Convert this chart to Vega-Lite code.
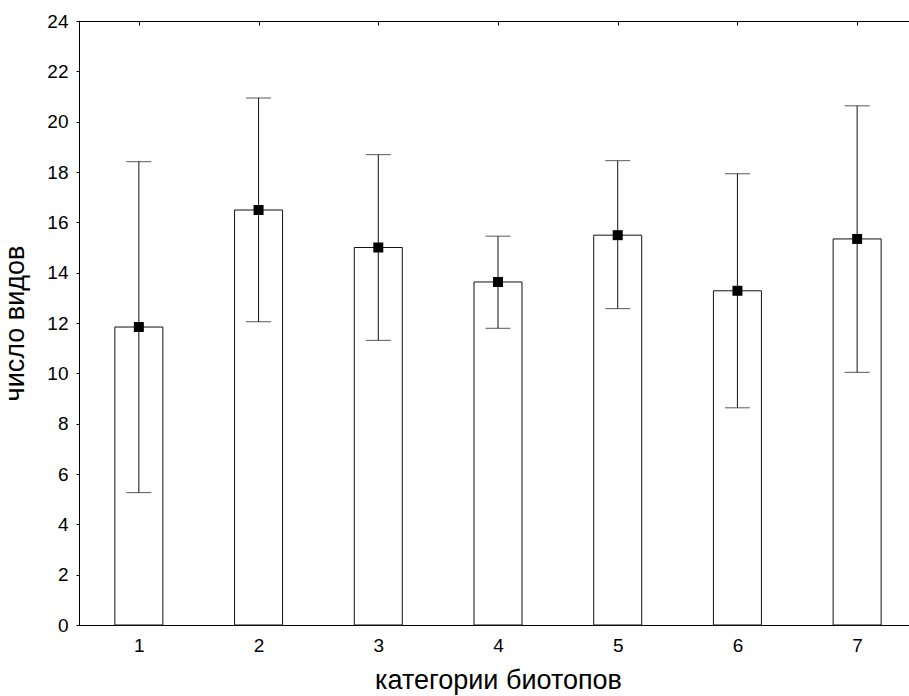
{
  "$schema": "https://vega.github.io/schema/vega-lite/v6.json",
  "autosize": "none",
  "width": 838,
  "height": 604,
  "padding": {"left": 79, "top": 21, "right": 0, "bottom": 71},
  "background": "white",
  "config": {
    "font": "Liberation Sans",
    "view": {"stroke": "#000", "strokeWidth": 1},
    "axis": {"grid": false, "domainColor": "#000", "tickColor": "#000", "labelColor": "#000", "titleColor": "#000", "labelFont": "Liberation Sans", "titleFont": "Liberation Sans", "labelFontSize": 19, "titleFontSize": 27, "titleFontWeight": "normal"}
  },
  "data": {"values": [
    {"cat": 1, "mean": 11.84, "lo": 5.26, "hi": 18.41},
    {"cat": 2, "mean": 16.49, "lo": 12.05, "hi": 20.94},
    {"cat": 3, "mean": 15.0, "lo": 11.31, "hi": 18.69},
    {"cat": 4, "mean": 13.63, "lo": 11.79, "hi": 15.45},
    {"cat": 5, "mean": 15.49, "lo": 12.57, "hi": 18.45},
    {"cat": 6, "mean": 13.28, "lo": 8.63, "hi": 17.93},
    {"cat": 7, "mean": 15.34, "lo": 10.04, "hi": 20.63}
  ]},
  "resolve": {"scale": {"x": "shared", "y": "shared"}, "axis": {"x": "independent", "y": "independent"}},
  "layer": [
    {
      "mark": {"type": "bar", "size": 48, "fill": "white", "stroke": "#111", "strokeWidth": 1},
      "encoding": {
        "x": {"field": "cat", "type": "quantitative", "scale": {"domain": [0.5, 7.5], "nice": false, "zero": false, "padding": 0},
              "axis": {"orient": "bottom", "values": [1,2,3,4,5,6,7], "title": "категории биотопов", "tickSize": -4, "labelPadding": 15, "titlePadding": 12, "labelAngle": 0}},
        "y": {"field": "mean", "type": "quantitative", "scale": {"domain": [0, 24], "nice": false, "padding": 0},
              "axis": {"orient": "left", "values": [0,2,4,6,8,10,12,14,16,18,20,22,24], "title": "число видов", "tickSize": 3, "labelPadding": 8, "titlePadding": 17}}
      }
    },
    {
      "mark": {"type": "rule", "color": "#111", "strokeWidth": 1},
      "encoding": {
        "x": {"field": "cat", "type": "quantitative", "axis": {"orient": "top", "values": [1,2,3,4,5,6,7], "labels": false, "title": null, "tickSize": -4}},
        "y": {"field": "lo", "type": "quantitative", "axis": null},
        "y2": {"field": "hi"}
      }
    },
    {
      "mark": {"type": "tick", "orient": "horizontal", "size": 25, "thickness": 1, "color": "#111"},
      "encoding": {
        "x": {"field": "cat", "type": "quantitative", "axis": null},
        "y": {"field": "lo", "type": "quantitative", "axis": null}
      }
    },
    {
      "mark": {"type": "tick", "orient": "horizontal", "size": 25, "thickness": 1, "color": "#111"},
      "encoding": {
        "x": {"field": "cat", "type": "quantitative", "axis": null},
        "y": {"field": "hi", "type": "quantitative", "axis": null}
      }
    },
    {
      "mark": {"type": "square", "size": 100, "filled": true, "color": "#000", "opacity": 1},
      "encoding": {
        "x": {"field": "cat", "type": "quantitative", "axis": null},
        "y": {"field": "mean", "type": "quantitative", "axis": null}
      }
    }
  ]
}
